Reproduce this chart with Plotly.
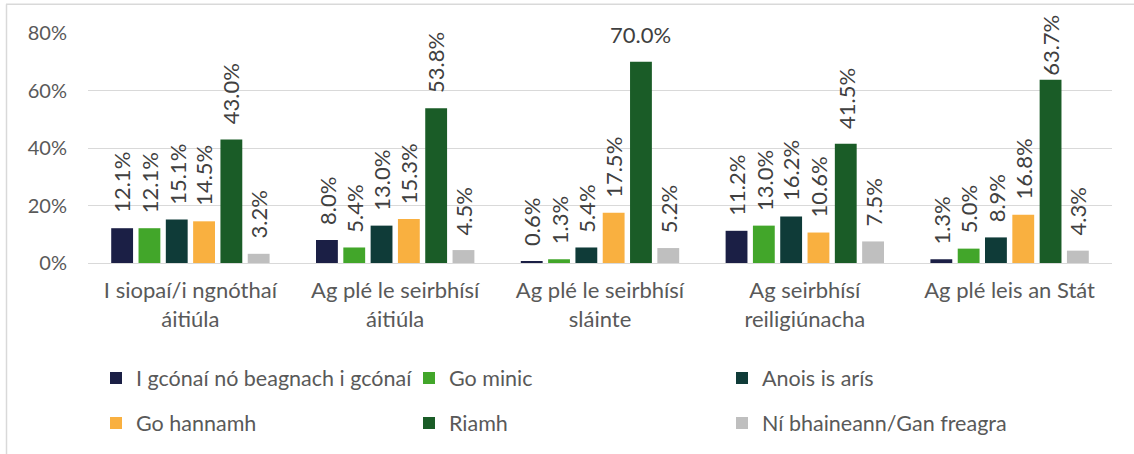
import plotly.graph_objects as go

categories = ["I siopaí/i ngnóthaí<br>áitiúla", "Ag plé le seirbhísí<br>áitiúla",
              "Ag plé le seirbhísí<br>sláinte", "Ag seirbhísí<br>reiligiúnacha",
              "Ag plé leis an Stát"]
series_names = ["I gcónaí nó beagnach i gcónaí", "Go minic", "Anois is arís",
                "Go hannamh", "Riamh", "Ní bhaineann/Gan freagra"]
always = [12.1, 8.0, 0.6, 11.2, 1.3]
often = [12.1, 5.4, 1.3, 13.0, 5.0]
sometimes = [15.1, 13.0, 5.4, 16.2, 8.9]
rarely = [14.5, 15.3, 17.5, 10.6, 16.8]
never = [43.0, 53.8, 70.0, 41.5, 63.7]
na = [3.2, 4.5, 5.2, 7.5, 4.3]
series_values = [always, often, sometimes, rarely, never, na]
colors = ["#1B1F45", "#42A62A", "#0F3B38", "#F9B040", "#1A5C27", "#BFBFBF"]
y_ticks = [0, 20, 40, 60, 80]
y_ticktext = ["0%", "20%", "40%", "60%", "80%"]

FONT = "Lato"
W, H = 1134, 454
ML, MR, MT, MB = 88, 22, 33, 190
PW, PH = W - ML - MR, H - MT - MB
YMAX = 80
BARGAP = 0.2
n = len(series_names)

def px_to_xp(px):
    return (px - ML) / PW

def py_to_yp(py):
    return (H - MB - py) / PH

fig = go.Figure()
legend_cols = [96, 409, 722]
legend_rows = [378, 423]
legend_layout = {}
for i, (name, vals, col) in enumerate(zip(series_names, series_values, colors)):
    lname = f"legend{i+2}"
    fig.add_trace(go.Bar(name=name, x=categories, y=vals, marker_color=col,
                         marker_line_width=0, legend=lname, hoverinfo="y"))
    r, c = divmod(i, 3)
    legend_layout[lname] = dict(
        x=px_to_xp(legend_cols[c]), y=py_to_yp(legend_rows[r]),
        xanchor="left", yanchor="middle", orientation="v",
        font=dict(family=FONT, size=21.5, color="#595959"),
        bgcolor="rgba(0,0,0,0)", itemwidth=30)

annotations = []
for i, vals in enumerate(series_values):
    for c, v in enumerate(vals):
        xpos = c + (i - (n - 1) / 2) * (1 - BARGAP) / n
        horizontal = v > 65
        bar_top_px = MT + (YMAX - v) * PH / YMAX
        shift = 12 if horizontal else min(13, bar_top_px - 78)
        annotations.append(dict(
            x=xpos, y=v, xref="x", yref="y", text=f"{v:.1f}%",
            showarrow=False, textangle=0 if horizontal else -90,
            xanchor="center", yanchor="bottom", yshift=shift,
            font=dict(family=FONT, size=22, color="#404040")))

fig.update_layout(
    width=W, height=H, autosize=False,
    margin=dict(l=ML, r=MR, t=MT, b=MB),
    paper_bgcolor="white", plot_bgcolor="white",
    barmode="group", bargap=BARGAP, bargroupgap=0.2,
    font=dict(family=FONT, size=20, color="#595959"),
    showlegend=True,
    annotations=annotations,
    shapes=[
        dict(type="line", xref="paper", yref="paper",
             x0=px_to_xp(6.5), x1=px_to_xp(6.5), y0=py_to_yp(4), y1=py_to_yp(460),
             line=dict(color="#D9D9D9", width=1.5)),
        dict(type="line", xref="paper", yref="paper",
             x0=px_to_xp(6), x1=px_to_xp(1140), y0=py_to_yp(4), y1=py_to_yp(4),
             line=dict(color="#D9D9D9", width=1.5)),
    ],
    xaxis=dict(showgrid=False, showline=False, ticks="", ticklabelstandoff=12,
               tickfont=dict(family=FONT, size=22, color="#595959")),
    yaxis=dict(range=[0, YMAX], tickvals=y_ticks, ticktext=y_ticktext,
               showgrid=True, gridcolor="#D9D9D9", gridwidth=1.3,
               zeroline=True, zerolinecolor="#D9D9D9", zerolinewidth=1.3,
               showline=False, ticks="", ticklabelstandoff=20,
               tickfont=dict(family=FONT, size=20, color="#595959")),
    **legend_layout,
)
fig.write_html("out.html", config={"displayModeBar": False},
               post_script="document.body.style.margin='0';")
